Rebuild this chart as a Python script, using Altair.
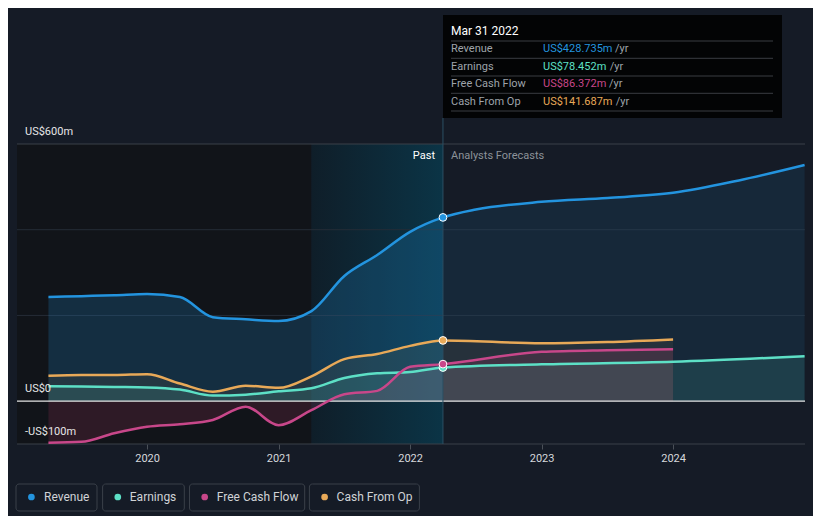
import altair as alt
import pandas as pd

# ---------------- data (values in US$ m, time in decimal years) ----------------
rev_t = [2019.25, 2019.5, 2019.75, 2020.0, 2020.25, 2020.5, 2020.75, 2021.0, 2021.25,
         2021.5, 2021.75, 2022.0, 2022.25, 2022.5, 2023.0, 2023.5, 2024.0, 2024.5, 2025.0]
rev_v = [243, 245, 247, 250, 243, 196, 191, 187, 210,
         292, 341, 395, 428.735, 447, 465, 474, 486, 515, 551]

earn_t = [2019.25, 2019.5, 2019.75, 2020.0, 2020.25, 2020.5, 2020.75, 2021.0, 2021.25,
          2021.5, 2021.75, 2022.0, 2022.25, 2023.0, 2024.0, 2025.0]
earn_v = [35, 34, 33, 32, 27, 13, 15, 23, 30,
          54, 65, 68, 78.452, 86, 92, 105]

fcf_t = [2019.25, 2019.5, 2019.75, 2020.0, 2020.25, 2020.5, 2020.75, 2021.0, 2021.25,
         2021.5, 2021.75, 2022.0, 2022.25, 2023.0, 2023.5, 2024.0]
fcf_v = [-97, -95, -75, -60, -54, -44, -13, -56, -21,
         16, 24, 80, 86.372, 115, 119, 121]

cfo_t = [2019.25, 2019.5, 2019.75, 2020.0, 2020.25, 2020.5, 2020.75, 2021.0, 2021.25,
         2021.5, 2021.75, 2022.0, 2022.25, 2023.0, 2023.5, 2024.0]
cfo_v = [59, 61, 61, 63, 41, 22, 36, 31, 58,
         98, 110, 129, 141.687, 135, 138, 144]

series_names = ["Revenue", "Earnings", "Free Cash Flow", "Cash From Op"]
series_colors = ["#2394df", "#5de0c6", "#c8478a", "#e8a958"]
tip_values = ["US$428.735m", "US$78.452m", "US$86.372m", "US$141.687m"]
tip_date = "Mar 31 2022"
year_ticks = [2020, 2021, 2022, 2023, 2024]
y_labels = [600, 0, -100]
y_label_text = ["US$600m", "US$0", "-US$100m"]
now_t = 2022.25
highlight_start = 2021.25

# ---------------- styling ----------------
BG = "#151b26"
XMIN, XMAX = 2019.011, 2025.003
W, H = 788, 300
FONT = "Roboto"

xs = alt.Scale(domain=[XMIN, XMAX], nice=False, zero=False)
ys = alt.Scale(domain=[-100, 600], nice=False, zero=False)
xaxis = alt.Axis(values=year_ticks, format="d", domain=False, grid=False, ticks=True,
                 tickColor="#4a5058", tickSize=5, labelColor="#d5d8dc", labelFontSize=11,
                 labelPadding=3, title=None, labelFont=FONT)


def X(f):
    return alt.X(f, type="quantitative", scale=xs, axis=xaxis)


def Y(f):
    return alt.Y(f, type="quantitative", scale=ys, axis=None)


one = pd.DataFrame({"a": [0]})
layers = []

# background regions
dark = alt.Chart(pd.DataFrame({"x0": [XMIN], "x1": [highlight_start]})).mark_rect(
    color="#111419").encode(x=X("x0"), x2="x1", y=alt.value(0), y2=alt.value(H))
hl = alt.Chart(pd.DataFrame({"x0": [highlight_start], "x1": [now_t]})).mark_rect(
    fill=alt.LinearGradient(gradient="linear",
                            stops=[alt.GradientStop(color="#0f1e29", offset=0),
                                   alt.GradientStop(color="#0b3446", offset=1)],
                            x1=0, x2=1, y1=0, y2=0)
).encode(x=X("x0"), x2="x1", y=alt.value(0), y2=alt.value(H))
layers += [dark, hl]

# grid lines
grid_soft = alt.Chart(pd.DataFrame({"v": [200, 400]})).mark_rule(
    color="#252c37", strokeWidth=1).encode(y=Y("v"), x=alt.value(0), x2=alt.value(W))
grid_hard = alt.Chart(pd.DataFrame({"v": [600, -100]})).mark_rule(
    color="#3a4049", strokeWidth=1).encode(y=Y("v"), x=alt.value(0), x2=alt.value(W))
layers += [grid_soft, grid_hard]

# series data
dfs = {
    "Revenue": pd.DataFrame({"t": rev_t, "v": rev_v}),
    "Earnings": pd.DataFrame({"t": earn_t, "v": earn_v}),
    "Free Cash Flow": pd.DataFrame({"t": fcf_t, "v": fcf_v}),
    "Cash From Op": pd.DataFrame({"t": cfo_t, "v": cfo_v}),
}
cmap = dict(zip(series_names, series_colors))

# areas
rev_df = dfs["Revenue"]
rev_past = rev_df[rev_df["t"] <= now_t]
rev_fut = rev_df[rev_df["t"] >= now_t]
rev_area_p = alt.Chart(rev_past).mark_area(
    interpolate="monotone", color="#2394df", opacity=0.2
).encode(x=X("t"), y=Y("v"), y2=alt.datum(0))
rev_area_f = alt.Chart(rev_fut).mark_area(
    interpolate="monotone", color="#2394df", opacity=0.11
).encode(x=X("t"), y=Y("v"), y2=alt.datum(0))
cfo_area = alt.Chart(dfs["Cash From Op"]).mark_area(
    interpolate="monotone", color="#e8a958", opacity=0.08
).encode(x=X("t"), y=Y("v"), y2=alt.datum(0))
fcf_area = alt.Chart(dfs["Free Cash Flow"]).mark_area(
    interpolate="monotone", color="#c8406e", opacity=0.16
).encode(x=X("t"), y=Y("v"), y2=alt.datum(0))
earn_area = alt.Chart(dfs["Earnings"]).mark_area(
    interpolate="monotone", color="#5de0c6", opacity=0.12
).encode(x=X("t"), y=Y("v"), y2=alt.datum(0))
layers += [rev_area_p, rev_area_f, cfo_area, fcf_area, earn_area]

# zero line
zero = alt.Chart(pd.DataFrame({"v": [0]})).mark_rule(
    color="#e3e3e3", strokeWidth=1.3).encode(y=Y("v"), x=alt.value(0), x2=alt.value(W))
layers.append(zero)

# divider
divider = alt.Chart(pd.DataFrame({"t": [now_t]})).mark_rule(
    color="#2b4f63", strokeWidth=1).encode(x=X("t"), y=alt.value(-26), y2=alt.value(H))
layers.append(divider)

# lines
for name in ["Revenue", "Cash From Op", "Earnings", "Free Cash Flow"]:
    layers.append(alt.Chart(dfs[name]).mark_line(
        interpolate="monotone", color=cmap[name], strokeWidth=2.5
    ).encode(x=X("t"), y=Y("v")))

# points at the current date
pt_vals = [rev_v[rev_t.index(now_t)], earn_v[earn_t.index(now_t)],
           fcf_v[fcf_t.index(now_t)], cfo_v[cfo_t.index(now_t)]]
for name, val in zip(series_names, pt_vals):
    layers.append(alt.Chart(pd.DataFrame({"t": [now_t], "v": [val]})).mark_point(
        filled=True, size=60, color=cmap[name], stroke="#ffffff", strokeWidth=1, opacity=1
    ).encode(x=X("t"), y=Y("v")))

# y labels
for v, txt in zip(y_labels, y_label_text):
    layers.append(alt.Chart(pd.DataFrame({"v": [v]})).mark_text(
        text=txt, align="left", baseline="middle", dy=-12, color="#e6e6e6",
        fontSize=11, font=FONT
    ).encode(y=Y("v"), x=alt.value(8)))

# Past / Analysts Forecasts
layers.append(alt.Chart(one).mark_text(text="Past", align="right", baseline="middle",
                                       color="#ffffff", fontSize=11, font=FONT)
              .encode(x=alt.value(418), y=alt.value(12)))
layers.append(alt.Chart(one).mark_text(text="Analysts Forecasts", align="left", baseline="middle",
                                       color="#8c9299", fontSize=11, font=FONT)
              .encode(x=alt.value(434), y=alt.value(12)))

# tooltip box
layers.append(alt.Chart(one).mark_rect(fill="#030405").encode(
    x=alt.value(426), x2=alt.value(765), y=alt.value(-129), y2=alt.value(-26)))
layers.append(alt.Chart(one).mark_text(text=tip_date, align="left", baseline="middle",
                                       color="#ffffff", fontSize=12, font=FONT)
              .encode(x=alt.value(434), y=alt.value(-113)))
sep_y = [-103, -85.7, -68, -50.7, -33]
for sy in sep_y:
    layers.append(alt.Chart(one).mark_rule(color="#3a3d42", strokeWidth=1).encode(
        x=alt.value(434), x2=alt.value(756), y=alt.value(sy)))
row_y = [-94.7, -77.3, -59.7, -42.3]
yr_x = [598, 592.7, 592, 598.7]
for name, val, ry, yx in zip(series_names, tip_values, row_y, yr_x):
    layers.append(alt.Chart(one).mark_text(text=name, align="left", baseline="middle",
                                           color="#9ea3aa", fontSize=11, font=FONT)
                  .encode(x=alt.value(434), y=alt.value(ry)))
    layers.append(alt.Chart(one).mark_text(text=val, align="left", baseline="middle",
                                           color=cmap[name], fontSize=11, font=FONT)
                  .encode(x=alt.value(526), y=alt.value(ry)))
    layers.append(alt.Chart(one).mark_text(text="/yr", align="left", baseline="middle",
                                           color="#9ea3aa", fontSize=11, font=FONT)
                  .encode(x=alt.value(yx), y=alt.value(ry)))

# legend
box_x = [(-1, 80), (85.6, 167.3), (172.5, 287.7), (292.4, 402.4)]
dot_x = [14.4, 100.8, 187.7, 307.6]
txt_x = [27, 112.8, 199.8, 319.6]
for name, (bx0, bx1), dx, tx in zip(series_names, box_x, dot_x, txt_x):
    layers.append(alt.Chart(one).mark_rect(fillOpacity=0, stroke="#3a4049", strokeWidth=1,
                                           cornerRadius=3)
                  .encode(x=alt.value(bx0), x2=alt.value(bx1), y=alt.value(340), y2=alt.value(367)))
    layers.append(alt.Chart(one).mark_point(filled=True, size=45, color=cmap[name], opacity=1)
                  .encode(x=alt.value(dx), y=alt.value(353)))
    layers.append(alt.Chart(one).mark_text(text=name, align="left", baseline="middle",
                                           color="#d0d3d6", fontSize=12, font=FONT)
                  .encode(x=alt.value(tx), y=alt.value(353)))

chart = alt.layer(*layers).properties(
    width=W, height=H,
    autosize=alt.AutoSizeParams(type="none"),
    padding={"left": 9, "top": 136, "right": 8, "bottom": 72},
    background=BG,
).configure_view(stroke=None)

chart.save("out.html", embed_options={"renderer": "svg", "actions": False})
